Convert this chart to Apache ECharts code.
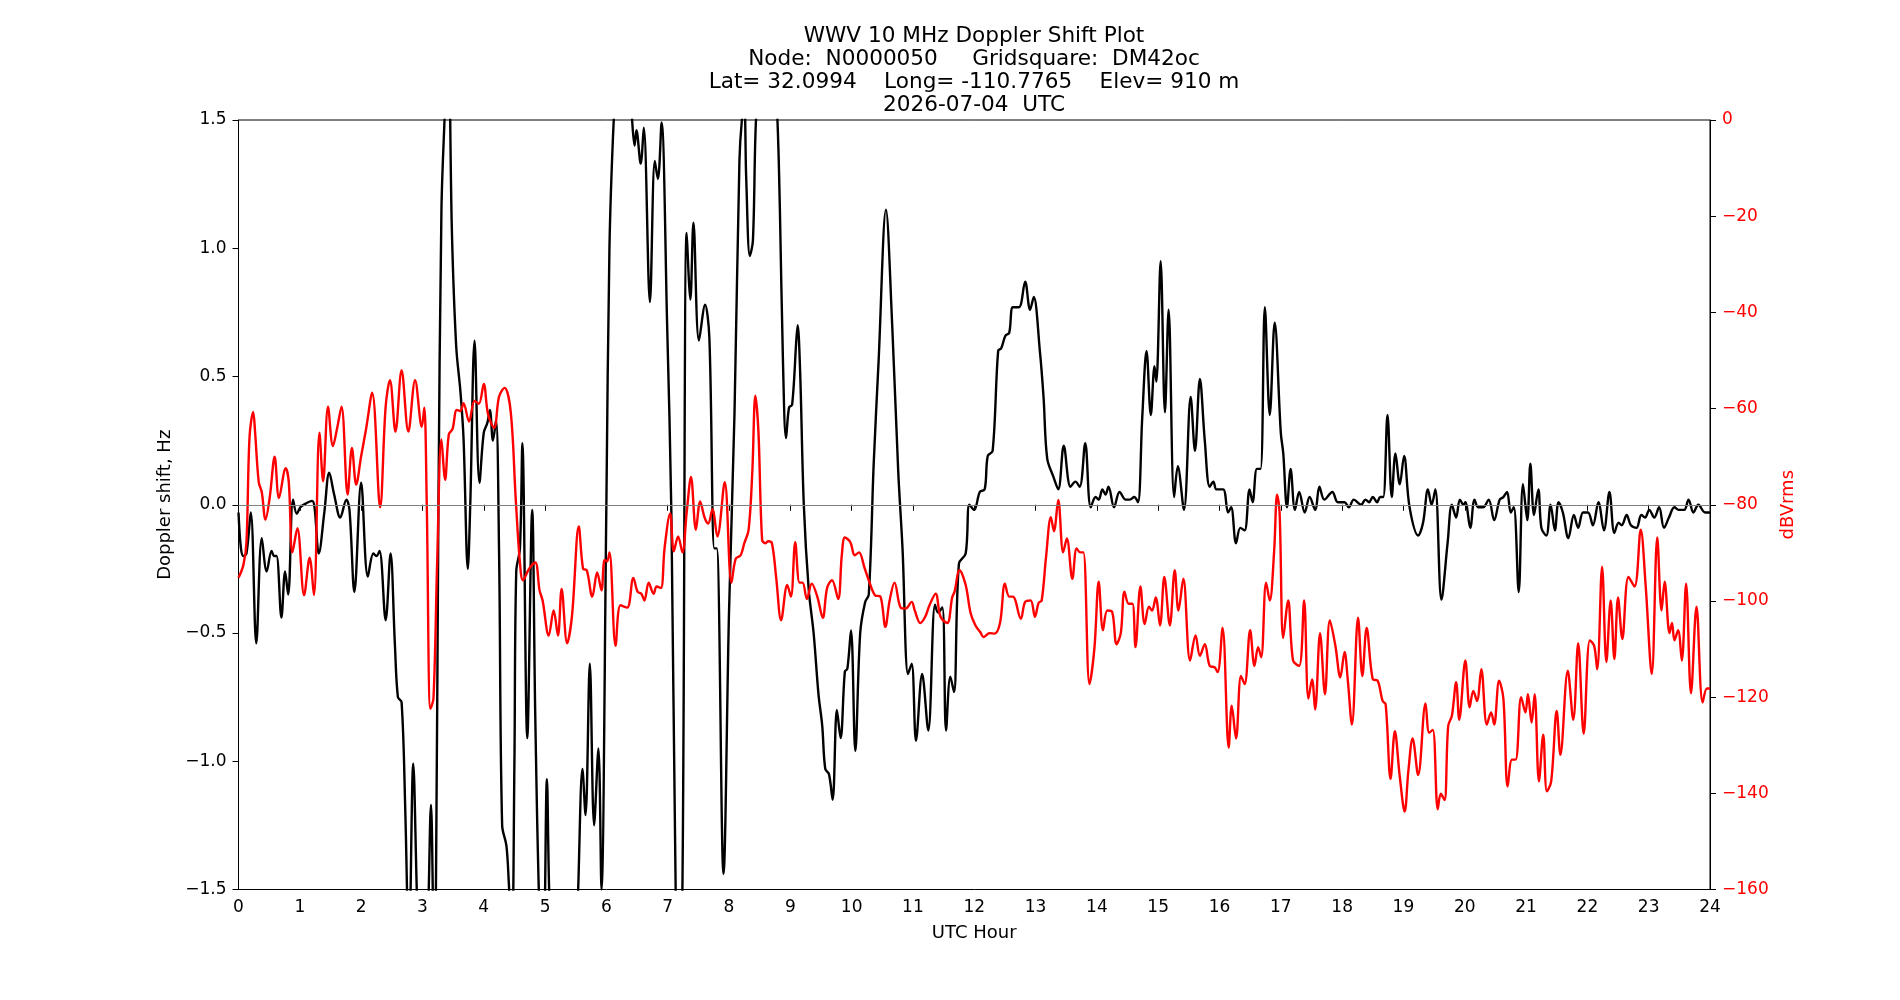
<!DOCTYPE html>
<html>
<head>
<meta charset="utf-8">
<script src="https://cdn.jsdelivr.net/npm/echarts@6/dist/echarts.min.js"></script>
<style>
html,body{margin:0;padding:0;background:#fff;}
#chart{width:1900px;height:1000px;}
</style>
</head>
<body>
<div id="chart"></div>
<script>
const titleLines = [
  'WWV 10 MHz Doppler Shift Plot',
  'Node:  N0000050     Gridsquare:  DM42oc',
  'Lat= 32.0994    Long= -110.7765    Elev= 910 m',
  '2026-07-04  UTC'
];

const dopplerHour = [0.00,0.04,0.08,0.13,0.20,0.29,0.38,0.46,0.54,0.58,0.62,0.70,0.76,0.81,0.89,0.95,1.01,1.10,1.20,1.24,1.31,1.40,1.48,1.56,1.66,1.76,1.81,1.89,2.00,2.11,2.20,2.25,2.30,2.40,2.48,2.55,2.60,2.66,2.72,2.78,2.85,2.92,3.00,3.08,3.14,3.19,3.22,3.26,3.31,3.36,3.42,3.48,3.55,3.62,3.67,3.74,3.78,3.85,3.93,4.00,4.06,4.10,4.15,4.20,4.25,4.30,4.37,4.41,4.46,4.50,4.53,4.59,4.63,4.71,4.79,4.84,4.91,4.97,5.03,5.08,5.20,5.35,5.50,5.54,5.61,5.66,5.73,5.80,5.87,5.92,6.00,6.05,6.12,6.20,6.35,6.42,6.46,6.49,6.56,6.61,6.71,6.79,6.84,6.90,6.99,7.06,7.13,7.18,7.24,7.31,7.37,7.42,7.51,7.61,7.68,7.76,7.80,7.91,8.00,8.09,8.17,8.21,8.25,8.28,8.34,8.39,8.44,8.55,8.70,8.79,8.83,8.88,8.93,8.98,9.03,9.10,9.12,9.16,9.22,9.30,9.38,9.46,9.52,9.57,9.63,9.69,9.76,9.82,9.89,9.93,9.99,10.06,10.14,10.22,10.28,10.36,10.44,10.56,10.66,10.76,10.83,10.92,10.98,11.05,11.15,11.25,11.36,11.41,11.48,11.54,11.61,11.67,11.75,11.86,11.92,12.00,12.09,12.17,12.22,12.30,12.39,12.44,12.51,12.57,12.63,12.73,12.83,12.91,12.97,13.07,13.13,13.19,13.29,13.37,13.46,13.57,13.65,13.72,13.81,13.90,13.98,14.03,14.09,14.14,14.19,14.28,14.37,14.47,14.54,14.61,14.67,14.74,14.81,14.88,14.94,14.97,15.04,15.11,15.17,15.26,15.32,15.42,15.53,15.60,15.68,15.76,15.84,15.90,15.95,16.06,16.14,16.19,16.27,16.34,16.41,16.49,16.54,16.61,16.67,16.74,16.82,16.90,17.00,17.04,17.10,17.16,17.23,17.30,17.39,17.47,17.56,17.63,17.71,17.84,17.93,18.04,18.11,18.19,18.31,18.38,18.44,18.50,18.57,18.62,18.67,18.74,18.81,18.87,18.94,19.01,19.10,19.24,19.32,19.40,19.46,19.52,19.62,19.72,19.79,19.86,19.92,19.98,20.01,20.09,20.16,20.22,20.30,20.39,20.48,20.57,20.63,20.69,20.75,20.80,20.88,20.95,21.02,21.07,21.13,21.20,21.25,21.33,21.40,21.47,21.53,21.60,21.69,21.78,21.85,21.93,22.01,22.09,22.18,22.27,22.36,22.44,22.51,22.56,22.64,22.71,22.80,22.88,22.94,23.01,23.09,23.17,23.25,23.33,23.42,23.49,23.58,23.65,23.73,23.81,23.92,24.00];

const dopplerHz = [-0.03,-0.17,-0.20,-0.19,-0.03,-0.54,-0.13,-0.26,-0.18,-0.20,-0.20,-0.44,-0.26,-0.35,0.02,-0.035,-0.01,0.005,0.015,-0.01,-0.19,-0.03,0.125,0.04,-0.05,0.02,-0.02,-0.34,0.086,-0.28,-0.19,-0.20,-0.18,-0.45,-0.19,-0.54,-0.75,-0.77,-1.19,-1.75,-1.01,-1.60,-2.00,-1.70,-1.17,-1.70,-1.50,-0.03,1.15,1.50,1.85,1.07,0.62,0.44,0.26,-0.25,0.00,0.64,0.086,0.28,0.32,0.37,0.25,0.33,-0.19,-1.25,-1.33,-1.48,-1.70,-1.01,-0.26,-0.17,0.24,-0.91,-0.02,-0.82,-1.60,-1.80,-1.07,-1.60,-2.00,-2.00,-1.80,-1.50,-1.03,-1.21,-0.62,-1.25,-0.95,-1.50,0.00,1.00,1.50,1.80,1.80,1.50,1.40,1.46,1.33,1.47,0.79,1.34,1.27,1.49,0.71,-0.03,-1.50,-1.90,-1.50,1.06,0.80,1.10,0.64,0.78,0.65,-0.17,-0.17,-1.44,-0.42,0.36,1.34,1.50,1.55,1.28,0.97,1.03,1.50,1.90,1.90,1.50,1.15,0.56,0.26,0.38,0.39,0.65,0.70,0.52,0.00,-0.33,-0.50,-0.74,-0.86,-1.03,-1.05,-1.15,-0.80,-0.91,-0.65,-0.64,-0.49,-0.96,-0.50,-0.38,-0.35,0.16,0.56,1.15,0.71,0.13,-0.17,-0.66,-0.62,-0.92,-0.66,-0.88,-0.39,-0.42,-0.40,-0.88,-0.67,-0.73,-0.23,-0.19,0.00,-0.02,0.05,0.06,0.19,0.21,0.60,0.61,0.66,0.67,0.77,0.77,0.87,0.76,0.81,0.60,0.42,0.18,0.11,0.06,0.23,0.07,0.09,0.07,0.24,-0.01,0.03,0.02,0.06,0.04,0.07,-0.01,0.05,0.02,0.02,0.03,0.01,0.34,0.60,0.35,0.54,0.48,0.95,0.36,0.76,0.03,0.15,-0.02,0.42,0.21,0.49,0.25,0.07,0.09,0.06,0.06,-0.03,-0.01,-0.15,-0.09,-0.10,0.06,0.01,0.14,0.14,0.77,0.35,0.71,0.28,0.20,-0.01,0.14,-0.02,0.05,-0.03,0.03,-0.02,0.07,0.02,0.05,0.01,0.01,-0.01,0.02,0.00,0.02,0.01,0.03,0.01,0.03,0.03,0.35,0.03,0.20,0.08,0.19,-0.01,-0.12,-0.07,0.06,0.00,0.06,-0.37,-0.15,0.00,-0.05,0.02,0.00,0.01,-0.09,0.02,-0.01,-0.01,0.02,-0.06,0.02,0.03,0.05,-0.03,-0.01,-0.34,0.08,-0.06,0.16,-0.04,0.06,-0.09,-0.12,0.00,-0.10,0.01,-0.03,-0.13,-0.04,-0.09,-0.03,-0.03,-0.08,0.01,-0.10,0.05,-0.11,-0.07,-0.08,-0.04,-0.08,-0.09,-0.04,-0.05,-0.02,-0.05,-0.01,-0.09,-0.05,-0.01,-0.02,-0.02,0.02,-0.03,0.00,-0.03,-0.03];

const signalHour = [0.00,0.08,0.13,0.18,0.24,0.27,0.33,0.38,0.44,0.51,0.59,0.66,0.77,0.82,0.88,0.96,1.07,1.16,1.23,1.32,1.38,1.46,1.54,1.61,1.68,1.78,1.85,1.92,2.00,2.08,2.18,2.31,2.40,2.47,2.56,2.66,2.77,2.88,2.99,3.03,3.07,3.13,3.18,3.24,3.31,3.37,3.43,3.49,3.56,3.62,3.67,3.76,3.85,3.92,4.00,4.07,4.17,4.25,4.34,4.44,4.52,4.59,4.64,4.74,4.84,4.91,4.96,5.06,5.14,5.21,5.27,5.36,5.44,5.55,5.62,5.68,5.77,5.85,5.92,5.97,6.01,6.05,6.15,6.23,6.34,6.44,6.51,6.57,6.62,6.69,6.77,6.82,6.89,6.95,7.04,7.10,7.17,7.24,7.31,7.38,7.46,7.53,7.60,7.66,7.73,7.81,7.93,8.04,8.11,8.19,8.25,8.32,8.38,8.43,8.48,8.54,8.59,8.64,8.70,8.77,8.85,8.95,9.01,9.08,9.15,9.20,9.27,9.35,9.44,9.53,9.60,9.68,9.78,9.84,9.89,9.98,10.05,10.12,10.21,10.28,10.38,10.47,10.55,10.62,10.70,10.80,10.88,10.98,11.03,11.12,11.20,11.27,11.37,11.45,11.56,11.64,11.68,11.76,11.86,11.94,12.02,12.10,12.15,12.25,12.33,12.42,12.50,12.57,12.63,12.76,12.83,12.92,12.99,13.05,13.10,13.17,13.25,13.30,13.37,13.45,13.51,13.60,13.67,13.73,13.78,13.88,13.96,14.03,14.10,14.17,14.25,14.32,14.39,14.45,14.52,14.58,14.63,14.71,14.78,14.85,14.90,14.96,15.03,15.10,15.19,15.27,15.33,15.41,15.52,15.61,15.68,15.76,15.84,15.92,15.97,16.05,16.15,16.20,16.27,16.35,16.41,16.50,16.57,16.63,16.68,16.76,16.82,16.89,16.94,16.98,17.04,17.12,17.20,17.30,17.38,17.45,17.51,17.56,17.64,17.72,17.80,17.89,17.97,18.04,18.09,18.16,18.26,18.33,18.40,18.50,18.58,18.66,18.71,18.79,18.86,18.94,19.02,19.08,19.15,19.24,19.36,19.42,19.48,19.56,19.61,19.67,19.73,19.79,19.86,19.91,20.01,20.08,20.14,20.20,20.27,20.36,20.43,20.48,20.56,20.63,20.70,20.77,20.83,20.92,20.99,21.03,21.09,21.14,21.21,21.28,21.34,21.41,21.50,21.56,21.68,21.77,21.85,21.94,22.04,22.11,22.16,22.24,22.31,22.38,22.44,22.50,22.57,22.67,22.77,22.87,22.95,23.05,23.14,23.21,23.26,23.34,23.38,23.42,23.48,23.54,23.61,23.69,23.78,23.88,23.95,24.00];

const signalDb = [-95.2,-92.5,-87.8,-65.9,-60.7,-64.8,-75.3,-77.4,-83.1,-78.4,-70.0,-78.6,-72.4,-75.3,-89.9,-84.9,-98.8,-91.0,-98.8,-65.0,-75.1,-59.6,-67.8,-64.0,-59.6,-77.9,-68.2,-75.8,-69.9,-64.3,-56.7,-80.5,-59.6,-54.1,-64.8,-52.0,-64.8,-54.1,-63.8,-59.8,-79.5,-122.4,-120.3,-92.0,-66.4,-74.8,-65.4,-64.3,-60.3,-60.5,-58.9,-62.7,-58.4,-59.0,-54.9,-61.2,-64.0,-57.5,-55.7,-60.7,-78.4,-92.0,-95.7,-93.3,-92.0,-97.8,-99.9,-107.2,-102.0,-107.2,-97.5,-108.8,-103.0,-84.5,-93.3,-93.6,-99.1,-94.1,-97.8,-91.5,-91.8,-89.9,-109.3,-100.9,-101.4,-95.2,-98.1,-98.5,-99.9,-96.2,-98.5,-97.0,-97.3,-88.9,-81.8,-89.7,-86.6,-89.9,-81.6,-74.2,-85.2,-79.3,-82.6,-83.9,-81.0,-86.6,-75.3,-96.2,-91.2,-90.5,-88.0,-85.2,-73.2,-57.3,-64.8,-87.3,-88.0,-87.6,-88.0,-95.2,-104.0,-96.7,-99.1,-87.8,-96.2,-96.2,-99.6,-96.4,-99.1,-103.5,-97.3,-95.7,-99.6,-90.5,-86.8,-87.8,-90.5,-89.9,-93.1,-95.7,-98.8,-99.1,-105.4,-99.9,-96.2,-101.4,-101.6,-100.2,-102.0,-104.6,-103.3,-100.9,-98.5,-103.3,-104.6,-99.3,-98.0,-93.6,-96.7,-102.5,-105.1,-106.5,-107.5,-106.7,-106.8,-104.6,-96.4,-99.1,-99.1,-103.7,-100.2,-99.9,-103.3,-100.4,-99.9,-91.0,-82.6,-85.5,-79.0,-89.9,-87.0,-95.4,-89.1,-89.9,-89.9,-117.3,-109.8,-96.0,-106.1,-102.0,-102.3,-109.0,-106.7,-98.1,-100.6,-100.6,-109.6,-97.0,-104.8,-101.2,-102.0,-99.3,-105.1,-95.0,-105.1,-93.6,-102.0,-95.4,-112.4,-107.2,-111.4,-109.0,-113.5,-113.8,-114.8,-105.6,-130.5,-121.8,-128.6,-115.6,-117.3,-106.1,-113.5,-109.6,-111.7,-96.2,-99.9,-89.9,-77.9,-81.6,-107.7,-99.9,-112.4,-113.5,-99.9,-120.3,-116.3,-122.6,-106.7,-119.4,-104.0,-109.3,-115.9,-110.6,-116.1,-125.7,-103.5,-115.6,-105.6,-116.3,-116.6,-120.8,-121.5,-137.0,-127.1,-136.5,-143.8,-135.4,-128.6,-136.2,-121.3,-127.4,-126.8,-143.3,-140.1,-141.4,-126.0,-123.9,-116.9,-124.7,-112.4,-122.1,-118.7,-120.8,-114.2,-125.7,-123.2,-125.7,-116.6,-120.3,-138.6,-133.0,-133.0,-120.0,-123.2,-119.4,-125.3,-119.4,-137.5,-127.8,-139.6,-137.5,-122.9,-132.0,-114.5,-124.7,-108.8,-127.6,-108.2,-109.3,-114.2,-92.9,-112.7,-99.9,-112.1,-99.3,-107.9,-95.0,-97.0,-85.2,-96.7,-115.2,-86.8,-102.0,-96.0,-106.7,-104.6,-108.2,-106.1,-112.4,-96.4,-119.2,-101.2,-121.1,-118.2,-118.2];

const FONT = 'DejaVu Sans';
const minusFmt = (d) => (v) => (v < 0 ? '\u2212' : '') + Math.abs(v).toFixed(d);

const dopplerData = dopplerHour.map((h, i) => [h, dopplerHz[i]]);
const signalData = signalHour.map((h, i) => [h, signalDb[i]]);

const chart = echarts.init(document.getElementById('chart'), null, {renderer: 'canvas'});
chart.setOption({
  backgroundColor: '#ffffff',
  animation: false,
  textStyle: {fontFamily: FONT},
  title: {
    text: titleLines.join('\n'),
    left: 974,
    top: 25,
    textAlign: 'center',
    padding: 0,
    textStyle: {fontFamily: FONT, fontSize: 21.6, fontWeight: 'normal', color: '#000', lineHeight: 23}
  },
  grid: {left: 238.5, right: 190, top: 120, bottom: 110.5, show: true, borderColor: '#000', borderWidth: 1, backgroundColor: 'transparent'},
  xAxis: {
    type: 'value', min: 0, max: 24, interval: 1,
    name: 'UTC Hour', nameLocation: 'middle', nameGap: 34.5,
    nameTextStyle: {fontFamily: FONT, fontSize: 18, color: '#000'},
    axisLine: {show: true, lineStyle: {color: '#000', width: 1}},
    axisTick: {show: true, inside: false, length: 6, lineStyle: {color: '#000'}},
    axisLabel: {fontFamily: FONT, fontSize: 17, color: '#000', margin: 10},
    splitLine: {show: false}
  },
  yAxis: [{
    type: 'value', min: -1.5, max: 1.5, interval: 0.5, position: 'left',
    name: 'Doppler shift, Hz', nameLocation: 'middle', nameRotate: 90, nameGap: 58.5,
    nameTextStyle: {fontFamily: FONT, fontSize: 18, color: '#000'},
    axisLine: {show: true, lineStyle: {color: '#000', width: 1}},
    axisTick: {show: true, inside: false, length: 6, lineStyle: {color: '#000'}},
    axisLabel: {fontFamily: FONT, fontSize: 17, color: '#000', margin: 12, formatter: minusFmt(1)},
    splitLine: {show: false}
  }, {
    type: 'value', min: -160, max: 0, interval: 20, position: 'right',
    name: 'dBVrms', nameLocation: 'middle', nameRotate: 90, nameGap: 58.5,
    nameTextStyle: {fontFamily: FONT, fontSize: 18, color: '#ff0000'},
    axisLine: {show: true, lineStyle: {color: '#000', width: 1}},
    axisTick: {show: true, inside: false, length: 6, lineStyle: {color: '#000'}},
    axisLabel: {fontFamily: FONT, fontSize: 17, color: '#ff0000', margin: 12, formatter: minusFmt(0)},
    splitLine: {show: false}
  }],
  series: [{
    name: 'Doppler', type: 'line', yAxisIndex: 0, data: dopplerData,
    showSymbol: false, smooth: 0.35, clip: true, z: 2,
    lineStyle: {color: '#000000', width: 2.4},
    markLine: {
      silent: true, symbol: 'none', label: {show: false},
      lineStyle: {color: '#808080', width: 1.2, type: 'solid'},
      data: [{yAxis: 0}]
    }
  }, {
    name: 'Signal', type: 'line', yAxisIndex: 1, data: signalData,
    showSymbol: false, smooth: 0.35, clip: true, z: 3,
    lineStyle: {color: '#ff0000', width: 2.4}
  }]
});
</script>
</body>
</html>
